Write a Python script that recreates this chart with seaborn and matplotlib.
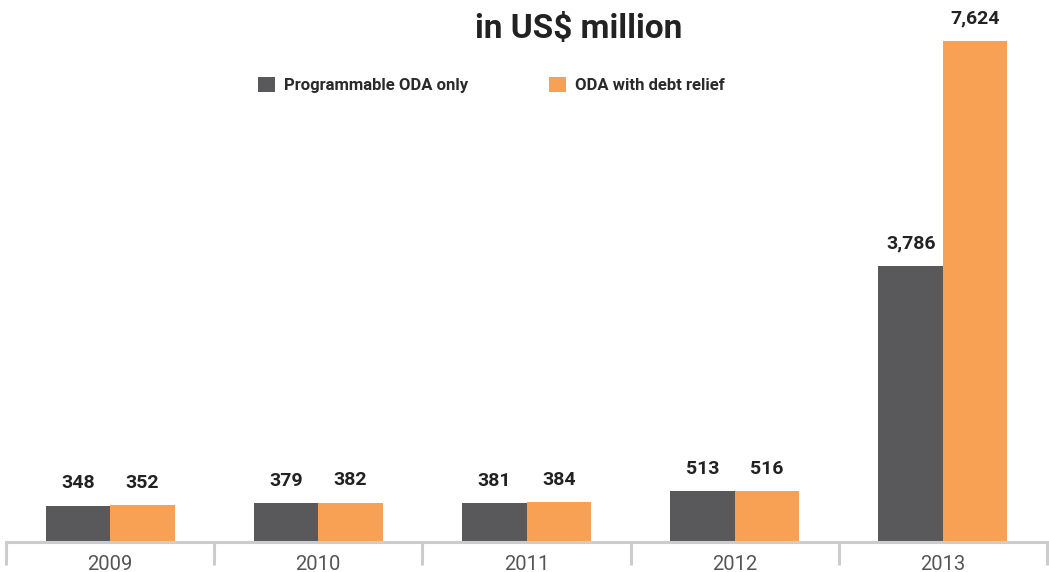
import numpy as np
import pandas as pd
import matplotlib
matplotlib.use("Agg")
import matplotlib.pyplot as plt
import seaborn as sns

years = ["2009", "2010", "2011", "2012", "2013"]
programmable = [348, 379, 381, 513, 3786]
with_debt = [352, 382, 384, 516, 7624]
series_names = ["Programmable ODA only", "ODA with debt relief"]
colors = ["#59595B", "#F8A154"]

df = pd.DataFrame({
    "year": years * 2,
    "value": programmable + with_debt,
    "series": [series_names[0]] * len(years) + [series_names[1]] * len(years),
})

sns.set_theme(style="white")
plt.rcParams["font.family"] = ["Roboto", "DejaVu Sans"]

W, H = 1049, 572
fig = plt.figure(figsize=(W / 100, H / 100), dpi=100)
ax = fig.add_axes([6 / W, 1 - 542 / H, (1047 - 6) / W, 542 / H])

sns.barplot(data=df, x="year", y="value", hue="series", palette=colors,
            width=0.62, saturation=1, linewidth=0, edgecolor="none", ax=ax, legend=True)

p = 0.85
ax.set_yscale("function", functions=(lambda v: np.power(np.maximum(v, 0), p),
                                     lambda v: np.power(np.maximum(v, 0), 1 / p)))
top_t = (7624 ** p) * 542 / 501
ax.set_ylim(0, top_t ** (1 / p))
ax.set_xlim(-0.5, 4.5)

for c in ax.containers:
    ax.bar_label(c, labels=[f"{v:,.0f}" for v in c.datavalues], padding=9.5,
                 fontsize=14, fontweight="bold", color="#222222")

for s in ["top", "right", "left"]:
    ax.spines[s].set_visible(False)
ax.spines["bottom"].set_color("#CCCCCD")
ax.spines["bottom"].set_linewidth(2.2)
ax.set_yticks([])
ax.set_xlabel("")
ax.set_ylabel("")
ax.set_xticks(np.arange(-0.5, 5, 1), minor=True)
ax.tick_params(axis="x", which="minor", length=16.5, width=2.2, color="#CCCCCD", bottom=True)
ax.tick_params(axis="x", which="major", length=0, pad=9, labelsize=14.5, labelcolor="#555555")

handles, labels = ax.get_legend_handles_labels()
leg = ax.legend(handles, labels, ncol=2, loc="center left",
                bbox_to_anchor=(245 / W - 6 / W, 1 - 85 / 542), bbox_transform=ax.transAxes,
                frameon=False, handlelength=1.0, handleheight=1.0, handletextpad=0.55,
                columnspacing=4.85, prop={"family": "Roboto", "weight": "bold", "size": 12})
for t in leg.get_texts():
    t.set_color("#2a2a2a")

fig.text(578.5 / W, 1 - 38 / H, "in US$ million", ha="center", va="baseline",
         fontsize=24, fontweight="bold", color="#222222")

fig.savefig("out.png", dpi=100)
